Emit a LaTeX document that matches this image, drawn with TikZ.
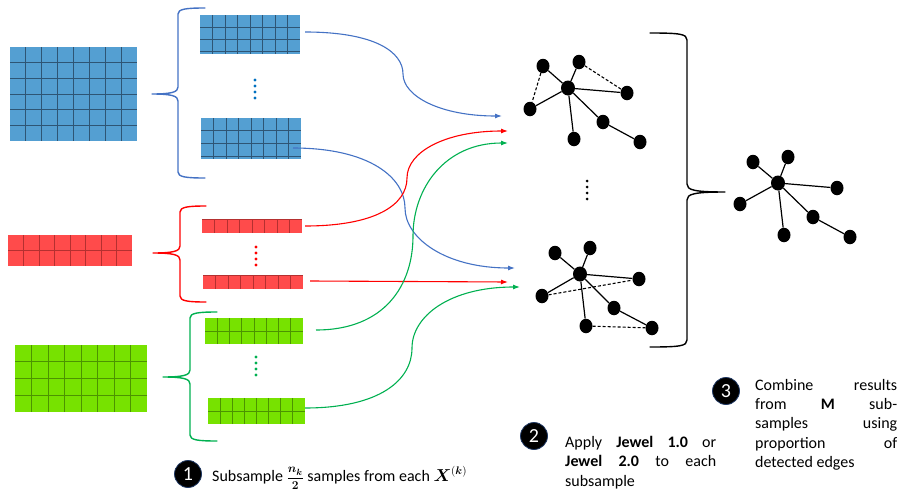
\documentclass[tikz,border=0pt]{standalone}
\usepackage{amsmath,bm}
\usepackage{fontspec}
\setmainfont{Carlito}
\usetikzlibrary{shapes.geometric,arrows.meta,calc}

\definecolor{bluefill}{HTML}{549FD2}
\definecolor{blueline}{HTML}{2E5575}
\definecolor{redfill}{HTML}{FF4B4B}
\definecolor{redline}{HTML}{B53030}
\definecolor{greenfill}{HTML}{77E200}
\definecolor{greenline}{HTML}{4C9400}
\definecolor{bluec}{HTML}{4472C4}
\definecolor{redc}{HTML}{FF0000}
\definecolor{greenc}{HTML}{00B050}
\definecolor{bluedot}{HTML}{0070C0}
\definecolor{navyring}{HTML}{1F3864}

% name, cx, cy, w, h, rowfractions, fill, line  (always 8 columns)
\newcommand\gridmat[8]{%
  \node[inner sep=0pt, outer sep=0pt, minimum width=#4pt, minimum height=#5pt, fill=#7] (#1) at (#2,#3) {};
  \foreach \gf in {0.125,0.25,0.375,0.5,0.625,0.75,0.875} {\draw[#8, line width=0.9pt] ($(#1.north west)!\gf!(#1.north east)$) -- ($(#1.south west)!\gf!(#1.south east)$);}
  \foreach \gf in {#6} {\draw[#8, line width=0.9pt] ($(#1.north west)!\gf!(#1.south west)$) -- ($(#1.north east)!\gf!(#1.south east)$);}
}
% left brace: tipx, tipy, linex, topy, boty, endx, color
\newcommand\leftbrace[7]{%
  \draw[#7, bracestyle] (#6,#4) .. controls (#3+8,#4) and (#3,#4+1) .. (#3,#4+6)
    -- (#3,#2-7) .. controls (#3,#2-2) and (#3-6,#2) .. (#1,#2)
    .. controls (#3-6,#2) and (#3,#2+2) .. (#3,#2+7)
    -- (#3,#5-6) .. controls (#3,#5-1) and (#3+8,#5) .. (#6,#5);
}

\tikzset{
  bracestyle/.style={line width=1.4pt, line join=round, line cap=round},
  gnode/.style={ellipse, fill=black, inner sep=0pt, minimum width=13pt, minimum height=14.5pt},
  gcenter/.style={gnode, minimum width=14pt, minimum height=15pt},
  gedge/.style={line width=1.2pt},
  gdash/.style={line width=1.1pt, dash pattern=on 3pt off 2pt},
  flow/.style={line width=1.1pt, -{Latex[length=7pt,width=5pt]}},
  numc/.style={circle, fill=black, draw=navyring, line width=0.8pt, text=white, minimum size=27pt, inner sep=0pt, font=\fontsize{20}{20}\selectfont},
  txt/.style={inner sep=0pt, font=\fontsize{16}{19.3}\selectfont, align=left},
}

\begin{document}
\begin{tikzpicture}[x=1pt, y=-1pt]
\useasboundingbox (0,0) rectangle (900,490);

% matrices
\gridmat{B0}{73.5}{94}{127}{94}{0.1667,0.3333,0.5,0.6667,0.8333}{bluefill}{blueline}
\gridmat{B1}{250}{34.5}{100}{39}{0.31,0.62,0.94}{bluefill}{blueline}
\gridmat{B2}{251}{138.5}{100}{41}{0.31,0.63,0.93}{bluefill}{blueline}
\gridmat{R0}{70}{250.5}{124}{31}{0.5}{redfill}{redline}
\gridmat{R1}{252}{226}{100}{14}{0}{redfill}{redline}
\gridmat{R2}{253}{282}{100}{14}{0}{redfill}{redline}
\gridmat{G0}{81}{378.5}{132}{67}{0.25,0.5,0.75}{greenfill}{greenline}
\gridmat{G1}{254}{331}{98}{26}{0.5}{greenfill}{greenline}
\gridmat{G2}{256.5}{411}{97}{26}{0.5}{greenfill}{greenline}

% braces
\leftbrace{152}{94}{178}{8}{178}{205}{bluec}
\leftbrace{153}{253}{180}{206}{302}{206}{redc}
\leftbrace{163}{377}{190}{312}{441}{217}{greenc}

% vertical dots
\foreach \yy in {80,86,92,98} \fill[bluedot] (255,\yy) circle (1.6pt);
\foreach \yy in {247,253,259,265} \fill[redc] (256,\yy) circle (1.6pt);
\foreach \yy in {357,363,369,375} \fill[greenc] (256,\yy) circle (1.6pt);
\foreach \yy in {181,187,193,199} \fill[black] (587,\yy) circle (1.5pt);

% flow arrows
\coordinate (b1s) at (305,32);  \coordinate (b1e) at (502,116);
\coordinate (b2s) at (293,148); \coordinate (b2e) at (515,268);
\coordinate (r1s) at (305,226); \coordinate (r1e) at (508,131);
\coordinate (r2s) at (310,281); \coordinate (r2e) at (508,282);
\coordinate (g1s) at (316,330); \coordinate (g1e) at (508,143);
\coordinate (g2s) at (305,408); \coordinate (g2e) at (520,287);

\draw[flow, bluec] (b1s) .. controls (375,32) and (403,52) .. (403,74) .. controls (403,96) and (440,116) .. (b1e);
\draw[flow, bluec] (b2s) .. controls (370,148) and (405,178) .. (405,208) .. controls (405,238) and (445,268) .. (b2e);
\draw[flow, redc] (r1s) .. controls (375,226) and (407,205) .. (407,178) .. controls (407,152) and (445,131) .. (r1e);
\draw[flow, redc] (r2s) -- (r2e);
\draw[flow, greenc] (g1s) .. controls (385,330) and (413,285) .. (413,236) .. controls (413,188) and (445,143) .. (g1e);
\draw[flow, greenc] (g2s) .. controls (380,408) and (412,380) .. (412,348) .. controls (412,316) and (450,287) .. (g2e);

% graph 1
\node[gcenter] (c1) at (568,88) {};
\node[gnode] (a1) at (543,66) {};
\node[gnode] (p1) at (579,62) {};
\node[gnode] (d1) at (627,93) {};
\node[gnode] (e1) at (530,109) {};
\node[gnode] (f1) at (574,139) {};
\node[gnode] (g1) at (603,122) {};
\node[gnode] (h1) at (640,142) {};
\foreach \n in {a1,p1,d1,e1,f1,g1} \draw[gedge] (c1) -- (\n);
\draw[gedge] (g1) -- (h1);
\draw[gdash] (a1) -- (e1);
\draw[gdash] (p1) -- (d1);

% graph 2
\node[gcenter] (c2) at (580,274) {};
\node[gnode] (a2) at (555,253) {};
\node[gnode] (p2) at (590,248) {};
\node[gnode] (d2) at (639,279) {};
\node[gnode] (e2) at (542,296) {};
\node[gnode] (f2) at (586,326) {};
\node[gnode] (g2) at (614,308) {};
\node[gnode] (h2) at (652,328) {};
\foreach \n in {a2,p2,d2,e2,f2,g2} \draw[gedge] (c2) -- (\n);
\draw[gedge] (g2) -- (h2);
\draw[gdash] (e2) -- (d2);
\draw[gdash] (f2) -- (h2);

% right brace
\draw[black, bracestyle] (650,33) .. controls (680,33) and (687,34) .. (687,40)
  -- (687,184) .. controls (687,190) and (694,192) .. (725,192)
  .. controls (694,192) and (687,194) .. (687,200)
  -- (687,340) .. controls (687,346) and (680,347) .. (650,347);

% graph 3
\node[gcenter] (c3) at (778,183) {};
\node[gnode] (a3) at (753,162) {};
\node[gnode] (p3) at (788,157) {};
\node[gnode] (d3) at (837,188) {};
\node[gnode] (e3) at (740,204) {};
\node[gnode] (f3) at (784,235) {};
\node[gnode] (g3) at (813,217) {};
\node[gnode] (h3) at (850,237) {};
\foreach \n in {a3,p3,d3,e3,f3,g3} \draw[gedge] (c3) -- (\n);
\draw[gedge] (g3) -- (h3);

% numbered labels
\node[numc] (n1) at (188,474) {1};
\node[numc] (n2) at (534,436) {2};
\node[numc] (n3) at (726,391) {3};

\node[txt, anchor=base west] (t1) at (212,481) {Subsample {\fontsize{12.5}{12.5}\selectfont$\dfrac{\bm{n_k}}{\bm{2}}$} samples from each $\bm{X}^{(\bm{k})}$};
\node[txt, anchor=north west] (t2) at (565,436) {%
  \hbox to 151pt{Apply\hfill\textbf{Jewel}\hfill\textbf{1.0}\hfill or}\\
  \hbox to 151pt{\textbf{Jewel}\hfill\textbf{2.0}\hfill to\hfill each}\\
  subsample};
\node[txt, anchor=north west] (t3) at (755,379) {%
  \hbox to 142pt{Combine\hfill results}\\
  \hbox to 142pt{from\hfill\textbf{M}\hfill sub-}\\
  \hbox to 142pt{samples\hfill using}\\
  \hbox to 142pt{proportion\hfill of}\\
  detected edges};
\end{tikzpicture}
\end{document}
